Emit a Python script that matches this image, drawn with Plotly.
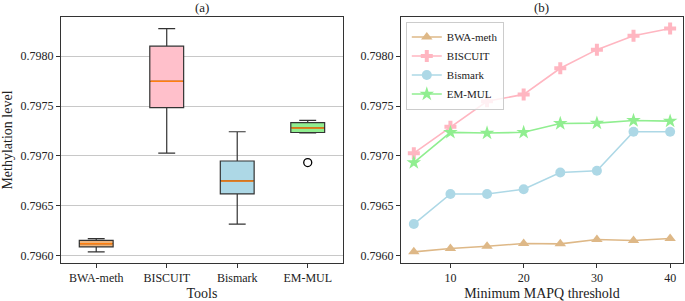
import numpy as np
import plotly.graph_objects as go

# ---------------- data ----------------
tools = ["BWA-meth", "BISCUIT", "Bismark", "EM-MUL"]
mapq = [5, 10, 15, 20, 25, 30, 35, 40]

bwa_meth = [0.79604, 0.796073, 0.796096, 0.796123, 0.79612, 0.796163, 0.796153, 0.796173]
biscuit = [0.797028, 0.797292, 0.797548, 0.797617, 0.797879, 0.798065, 0.798204, 0.798276]
bismark = [0.796318, 0.79662, 0.79662, 0.796666, 0.796835, 0.796852, 0.797243, 0.797243]
em_mul = [0.796934, 0.797237, 0.79723, 0.797237, 0.797326, 0.797329, 0.797356, 0.797349]

series = [bwa_meth, biscuit, bismark, em_mul]
line_colors = ["#DEB887", "#FFB6C1", "#ADD8E6", "#90EE90"]
box_colors = ["#EDB47C", "#FFC0CB", "#ADD8E6", "#90EE90"]
symbols = ["triangle-up", "cross", "circle", "star"]

y_ticks = [0.7960, 0.7965, 0.7970, 0.7975, 0.7980]
x_ticks_b = [10, 20, 30, 40]

FONT = "Liberation Serif, Times New Roman, serif"
EDGE = "#333333"


def box_stats(vals):
    """matplotlib-style box statistics (numpy linear percentiles, 1.5 IQR whiskers)."""
    a = np.asarray(vals, dtype=float)
    q1, med, q3 = np.percentile(a, [25, 50, 75])
    iqr = q3 - q1
    lo_lim, hi_lim = q1 - 1.5 * iqr, q3 + 1.5 * iqr
    inside = a[(a >= lo_lim) & (a <= hi_lim)]
    outl = a[(a < lo_lim) | (a > hi_lim)]
    return float(q1), float(med), float(q3), float(inside.min()), float(inside.max()), outl


fig = go.Figure()

# ---------------- (a) box plots ----------------
positions = list(range(1, len(tools) + 1))
for pos, name, vals, col in zip(positions, tools, series, box_colors):
    q1, med, q3, lo, hi, outl = box_stats(vals)
    fig.add_trace(go.Box(
        x=[pos], q1=[q1], median=[med], q3=[q3], lowerfence=[lo], upperfence=[hi],
        name=name, fillcolor=col, line=dict(color=EDGE, width=1.2),
        width=0.48, whiskerwidth=0.5, boxpoints=False,
        xaxis="x", yaxis="y", showlegend=False,
    ))
    fig.add_trace(go.Scatter(
        x=[pos - 0.23, pos + 0.23], y=[med, med], mode="lines",
        line=dict(color="#FF7F0E", width=1.5),
        xaxis="x", yaxis="y", showlegend=False, hoverinfo="skip",
    ))
    if len(outl):
        fig.add_trace(go.Scatter(
            x=[pos] * len(outl), y=list(outl), mode="markers",
            marker=dict(symbol="circle-open", color="black", size=8, line=dict(width=1.3)),
            xaxis="x", yaxis="y", showlegend=False,
        ))

# ---------------- (b) lines ----------------
for name, vals, col, sym in zip(tools, series, line_colors, symbols):
    fig.add_trace(go.Scatter(
        x=mapq, y=vals, name=name, mode="lines+markers",
        line=dict(color=col, width=1.6),
        marker=dict(symbol=sym, color=col, size=10 if sym != "star" else 11,
                    line=dict(width=0)),
        xaxis="x2", yaxis="y2",
    ))

axis_common = dict(
    showline=True, mirror=True, linecolor=EDGE, linewidth=1,
    ticks="outside", ticklen=4, tickcolor=EDGE, tickwidth=1,
    tickfont=dict(family=FONT, size=12, color="#222"),
    zeroline=False,
)
yr = [0.795928, 0.798392]

fig.update_layout(
    width=685, height=301,
    margin=dict(l=0, r=0, t=0, b=0),
    paper_bgcolor="white", plot_bgcolor="white",
    font=dict(family=FONT, size=12, color="#222"),
    xaxis=dict(domain=[0.089, 0.5007], range=[0.5, 4.5],
               tickvals=positions, ticktext=tools, showgrid=False,
               title=dict(text="Tools", font=dict(family=FONT, size=14), standoff=4),
               **axis_common),
    yaxis=dict(domain=[0.1262, 0.9435], range=yr, tickvals=y_ticks,
               tickformat=".4f", showgrid=True, gridcolor="#c8c8c8", gridwidth=1,
               title=dict(text="Methylation level", font=dict(family=FONT, size=14), standoff=6),
               **axis_common),
    xaxis2=dict(domain=[0.5854, 0.997], range=[3.25, 41.75], anchor="y2",
                tickvals=x_ticks_b, showgrid=False,
                title=dict(text="Minimum MAPQ threshold", font=dict(family=FONT, size=14), standoff=4),
                **axis_common),
    yaxis2=dict(domain=[0.1262, 0.9435], range=yr, anchor="x2", tickvals=y_ticks,
                tickformat=".4f", showgrid=False, **axis_common),
    legend=dict(x=0.5854 + 0.007, y=0.9435 - 0.015, xanchor="left", yanchor="top",
                bgcolor="rgba(255,255,255,0.8)", bordercolor="#cccccc", borderwidth=1,
                font=dict(family=FONT, size=11, color="#222"),
                tracegroupgap=0, itemwidth=30),
    annotations=[
        dict(text="(a)", x=(0.089 + 0.5007) / 2, y=1.005, xref="paper", yref="paper",
             xanchor="center", yanchor="top", showarrow=False,
             font=dict(family=FONT, size=13, color="#222")),
        dict(text="(b)", x=(0.5854 + 0.997) / 2, y=1.005, xref="paper", yref="paper",
             xanchor="center", yanchor="top", showarrow=False,
             font=dict(family=FONT, size=13, color="#222")),
    ],
)

fig.write_html("out.html", config={"displayModeBar": False},
               post_script="document.body.style.margin='0';")
